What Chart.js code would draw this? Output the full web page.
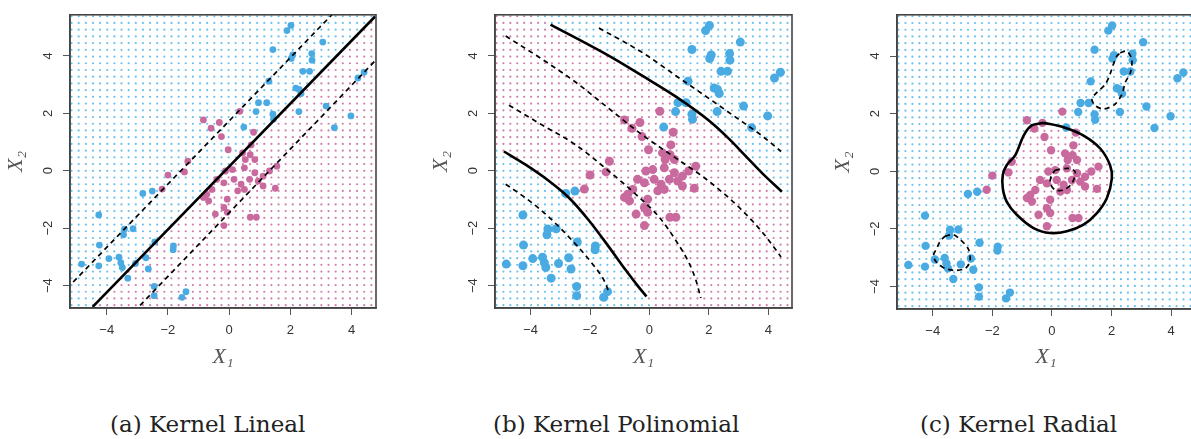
<!DOCTYPE html>
<html>
<head>
<meta charset="utf-8">
<script src="https://cdn.jsdelivr.net/npm/chart.js@4"></script>
<style>
  body { margin: 0; width: 1191px; height: 439px; overflow: hidden; background: #fff; position: relative; }
  canvas { position: absolute; top: 0; }
  .cap { position: absolute; top: 411px; font-family: "DejaVu Serif", serif; font-size: 23px; line-height: 27px; color: #222; white-space: nowrap; }
</style>
</head>
<body>
<canvas id="c1" width="400" height="370" style="left:0px"></canvas>
<canvas id="c2" width="400" height="370" style="left:425px"></canvas>
<canvas id="c3" width="400" height="370" style="left:827px"></canvas>
<div class="cap" style="left:110px">(a) Kernel Lineal</div>
<div class="cap" style="left:493px">(b) Kernel Polinomial</div>
<div class="cap" style="left:920px">(c) Kernel Radial</div>
<script>
// tick labels
const xTicks = [-4, -2, 0, 2, 4];
const yTicks = [-4, -2, 0, 2, 4];

// observations (same data in all three panels)
const blueX = [1.89, 2.02, 1.43, 2.08, 2.03, 3.06, 2.70, 2.71, 2.41, 2.63, 1.30, 2.18, 2.29, 2.35, 4.21, 4.41,
  0.96, 1.23, 0.88, 1.43, 1.45, 2.28, 3.17, 3.98, 3.44, 0.48,
  -2.82, -2.51, -4.26, -3.42, -3.14, -3.45, -2.43, -4.24, -1.82, -1.83, -4.82, -3.93, -3.60, -3.54, -3.49,
  -3.06, -2.72, -2.64, -4.26, -3.31, -2.45, -2.45, -1.54, -1.41];
const blueY = [4.88, 5.06, 4.22, 4.03, 3.91, 4.48, 4.08, 3.85, 3.46, 3.46, 3.12, 2.88, 2.83, 2.69, 3.23, 3.43,
  2.37, 2.37, 2.06, 1.97, 1.79, 2.06, 2.25, 1.91, 1.50, 1.52,
  -0.79, -0.71, -1.54, -2.03, -2.02, -2.23, -2.48, -2.59, -2.62, -2.75, -3.25, -3.06, -3.01, -3.20, -3.37,
  -3.23, -3.03, -3.42, -3.31, -3.74, -4.03, -4.35, -4.41, -4.21];
const pinkX = [-0.84, -0.32, 0.35, -0.59, -0.25, 0.80, -0.03, 0.72, 0.44, 0.69, 0.84, 0.53, -1.35, -1.46,
  -2.00, -2.19, 1.56, 1.32, 1.11, 1.51, -0.12, 0.11, 0.50, 0.84, -0.40, -0.17, 0.16, 0.39, 0.67, 0.95,
  1.11, 0.50, -0.56, -0.73, -0.84, -0.67, -0.06, -0.17, -0.06, -0.45, -0.17, 0.69, 0.89, 0.28];
const pinkY = [1.77, 1.68, 2.07, 1.48, 1.19, 1.34, 0.73, 0.90, 0.62, 0.56, 0.39, 0.39, 0.33, -0.04,
  -0.15, -0.64, 0.16, -0.01, -0.19, -0.61, -0.01, 0.04, 0.10, -0.07, -0.30, -0.42, -0.30, -0.47, -0.30, -0.36,
  -0.53, -0.65, -0.65, -0.82, -0.93, -1.05, -0.99, -1.28, -1.45, -1.51, -1.91, -1.62, -1.62, -0.70];

// (a) linear kernel: decision line and margins
const linSolid = [[-4.46, -4.74], [4.77, 5.37]];
const linUpper = [[-5.30, -4.10], [3.41, 5.49]];
const linLower = [[-2.91, -4.69], [4.90, 3.97]];

// (b) polynomial kernel
const polySolidUp = [[-3.33, 5.09], [-1.36, 4.00], [-0.23, 3.30], [0.89, 2.58], [2.01, 1.74],
  [2.69, 1.10], [3.25, 0.50], [3.81, -0.10], [4.46, -0.73]];
const polySolidLow = [[-4.90, 0.67], [-4.17, 0.21], [-3.38, -0.36], [-2.71, -0.94], [-2.03, -1.74],
  [-1.36, -2.66], [-0.80, -3.46], [-0.40, -4.00], [-0.10, -4.38]];
const polyDashA = [[-1.70, 4.97], [-0.23, 4.11], [0.89, 3.31], [2.01, 2.51], [3.13, 1.70], [3.81, 1.20], [4.43, 0.67]];
const polyDashB = [[-4.84, 4.69], [-3.61, 3.88], [-2.48, 3.08], [-1.36, 2.16], [-0.23, 1.24], [0.89, 0.44],
  [1.79, -0.20], [2.57, -0.85], [3.13, -1.39], [3.81, -2.15], [4.43, -3.00]];
const polyDashC = [[-4.73, 2.28], [-3.61, 1.59], [-2.48, 0.90], [-1.36, -0.02], [-0.46, -0.82], [0.33, -1.62],
  [0.89, -2.43], [1.34, -3.23], [1.56, -3.80], [1.73, -4.43]];
const polyDashD = [[-4.84, -0.47], [-4.05, -1.04], [-3.38, -1.62], [-2.60, -2.43], [-1.93, -3.23], [-1.48, -3.92], [-1.36, -4.26]];

// (c) radial kernel
const radSolid = [[-0.28, 1.68], [0.39, 1.53], [1.06, 1.24], [1.62, 0.79], [1.95, 0.21], [2.01, -0.25],
  [1.84, -0.94], [1.51, -1.45], [1.06, -1.85], [0.50, -2.08], [-0.06, -2.14], [-0.62, -1.97], [-1.18, -1.51],
  [-1.52, -1.05], [-1.65, -0.59], [-1.65, -0.13], [-1.52, 0.21], [-1.23, 0.56], [-0.95, 1.24], [-0.68, 1.59]];
const radDashMid = [[0.11, 0.04], [0.56, 0.10], [0.78, -0.02], [0.67, -0.42], [0.39, -0.65], [0.11, -0.65],
  [-0.06, -0.42], [-0.01, -0.13]];
const radDashTop = [[2.29, 4.11], [2.51, 4.17], [2.68, 3.88], [2.63, 3.42], [2.46, 3.08], [2.35, 2.68], [2.12, 2.33],
  [1.73, 2.16], [1.45, 2.28], [1.34, 2.51], [1.51, 2.74], [1.79, 3.02], [1.95, 3.37], [2.06, 3.71], [2.18, 4.00]];
const radDashLow = [[-3.59, -2.25], [-3.31, -2.20], [-3.08, -2.37], [-2.80, -2.71], [-2.75, -3.12], [-2.91, -3.37],
  [-3.25, -3.44], [-3.59, -3.37], [-3.86, -3.17], [-3.98, -2.94], [-3.86, -2.66], [-3.75, -2.43]];

const BLUE = '#4aabe3';
const PINK = '#c96a9f';
const GRID_BLUE = '#6cc0ec';
const GRID_PINK = '#d07fab';

// classification helpers for the background lattice
function cross(p, a, b) { return (b[0] - a[0]) * (p[1] - a[1]) - (b[1] - a[1]) * (p[0] - a[0]); }
function curveAt(c, x) {
  let i = 0;
  while (i < c.length - 2 && x > c[i + 1][0]) i++;
  const a = c[i], b = c[i + 1];
  return a[1] + (b[1] - a[1]) * (x - a[0]) / (b[0] - a[0]);
}
function inPoly(p, poly) {
  let inside = false;
  for (let i = 0, j = poly.length - 1; i < poly.length; j = i++) {
    const [xi, yi] = poly[i], [xj, yj] = poly[j];
    if ((yi > p[1]) !== (yj > p[1]) && p[0] < (xj - xi) * (p[1] - yi) / (yj - yi) + xi) inside = !inside;
  }
  return inside;
}

function lattice(isPink) {
  const pts = [];
  for (let i = 0; i < 43; i++) {
    for (let j = 0; j < 44; j++) {
      const x = -5.15 + i * 0.2333, y = 5.38 - j * 0.234;
      pts.push({ x, y, c: isPink([x, y]) ? GRID_PINK : GRID_BLUE });
    }
  }
  return pts;
}

const toXY = arr => arr.map(p => ({ x: p[0], y: p[1] }));
const closed = arr => arr.concat([arr[0]]);

const boxPlugin = {
  id: 'box',
  afterDatasetsDraw(chart) {
    const a = chart.chartArea, ctx = chart.ctx;
    ctx.save();
    ctx.strokeStyle = '#444';
    ctx.lineWidth = 1.6;
    ctx.strokeRect(a.left, a.top, a.right - a.left, a.bottom - a.top);
    ctx.restore();
  }
};

function makePanel(id, pad, radius, lines, isPink) {
  const grid = lattice(isPink);
  const datasets = lines.map(l => ({
    data: toXY(l.pts), showLine: true, pointRadius: 0, borderColor: '#000',
    borderWidth: l.dash ? 1.7 : 2.6, borderDash: l.dash ? [5, 4] : [], tension: l.t || 0, fill: false,
    cubicInterpolationMode: l.mono ? 'monotone' : 'default'
  }));
  datasets.push({ data: blueX.map((x, i) => ({ x, y: blueY[i] })), pointRadius: radius, pointBackgroundColor: BLUE, pointBorderWidth: 0 });
  datasets.push({ data: pinkX.map((x, i) => ({ x, y: pinkY[i] })), pointRadius: radius, pointBackgroundColor: PINK, pointBorderWidth: 0 });
  datasets.push({ data: grid, pointRadius: 1.1, pointBorderWidth: 0, pointBackgroundColor: ctx => ctx.raw ? ctx.raw.c : GRID_BLUE });

  const axisGrid = { display: true, drawOnChartArea: false, drawTicks: true, tickLength: 7, color: '#555', lineWidth: 1 };
  const tickFont = { family: 'Liberation Sans', size: 13 };
  const fmt = v => String(v).replace('-', '\u2212');

  new Chart(document.getElementById(id), {
    type: 'scatter',
    data: { datasets },
    plugins: [boxPlugin],
    options: {
      responsive: false, animation: false, devicePixelRatio: 1,
      layout: { padding: { top: pad.top, right: pad.right, left: 0, bottom: 0 } },
      plugins: { legend: { display: false }, tooltip: { enabled: false } },
      scales: {
        x: {
          type: 'linear', min: -5.2, max: 4.8,
          afterBuildTicks: s => { s.ticks = xTicks.map(v => ({ value: v })); },
          afterFit: s => { s.height = pad.xh; },
          grid: axisGrid, border: { display: true, color: '#444', width: 1.6 },
          ticks: { font: tickFont, color: '#333', padding: 8, maxRotation: 0, callback: fmt },
          title: { display: true, text: 'X\u2081', color: '#555', padding: 0,
            font: { family: 'Liberation Serif', style: 'italic', size: 22 } }
        },
        y: {
          type: 'linear', min: -4.78, max: 5.43,
          afterBuildTicks: s => { s.ticks = yTicks.map(v => ({ value: v })); },
          afterFit: s => { s.width = 70; },
          grid: axisGrid, border: { display: true, color: '#444', width: 1.6 },
          ticks: { font: tickFont, color: '#333', padding: 7, minRotation: 90, maxRotation: 90, crossAlign: 'center', callback: fmt },
          title: { display: true, text: 'X\u2082', color: '#555', padding: 3,
            font: { family: 'Liberation Serif', style: 'italic', size: 22 } }
        }
      }
    }
  });
}

makePanel('c1', { top: 10, right: 24, xh: 62 }, 3.4, [
  { pts: linSolid }, { pts: linUpper, dash: true }, { pts: linLower, dash: true }
], p => cross(p, linSolid[0], linSolid[1]) < 0);

makePanel('c2', { top: 12, right: 33, xh: 62 }, 4.5, [
  { pts: polySolidUp, mono: true }, { pts: polySolidLow, mono: true },
  { pts: polyDashA, dash: true, mono: true }, { pts: polyDashB, dash: true, mono: true },
  { pts: polyDashC, dash: true, mono: true }, { pts: polyDashD, dash: true, mono: true }
], p => p[1] < curveAt(polySolidUp, p[0]) && p[1] > curveAt(polySolidLow, p[0]));

makePanel('c3', { top: 12, right: 32, xh: 61 }, 4.2, [
  { pts: closed(radSolid), t: 0.3 }, { pts: closed(radDashMid), dash: true, t: 0.3 },
  { pts: closed(radDashTop), dash: true, t: 0.3 }, { pts: closed(radDashLow), dash: true, t: 0.3 }
], p => inPoly(p, radSolid));
</script>
</body>
</html>
